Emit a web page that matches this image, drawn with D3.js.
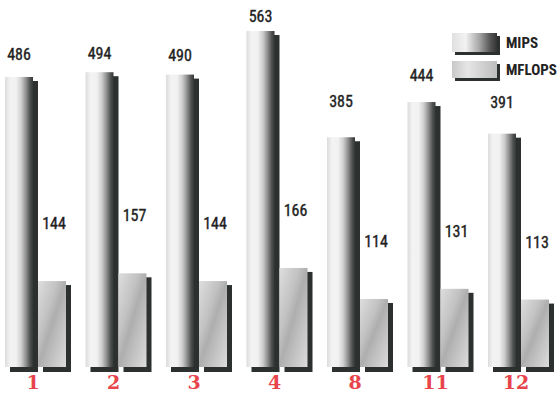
<!DOCTYPE html>
<html>
<head>
<meta charset="utf-8">
<script src="https://cdn.jsdelivr.net/npm/d3@7"></script>
<style>
  body { margin: 0; background: #fff; }
  svg { display: block; }
</style>
</head>
<body>
<div id="chart"></div>
<script>
// data
const groups = ["1", "2", "3", "4", "8", "11", "12"];
const mips = [486, 494, 490, 563, 385, 444, 391];
const mflops = [144, 157, 144, 166, 114, 131, 113];
const seriesNames = ["MIPS", "MFLOPS"];

// label lift above the MIPS bars (hand placed in the original)
const mipsLift = [17, 13, 14, 9, 30, 21, 26];

const width = 558;
const height = 393;
const base = 367;
const barW = 28;
const shadow = { dx: 5, dy: 4 };

const svg = d3.select("#chart").append("svg")
    .attr("width", width)
    .attr("height", height);

const defs = svg.append("defs");

//cylinder look for the MIPS bars
const gMips = defs.append("linearGradient").attr("id", "mipsGrad")
    .attr("x1", 0).attr("x2", 1).attr("y1", 0).attr("y2", 0);
[[0, "#dcdcdc"], [0.18, "#f3f3f3"], [0.4, "#f1f1f1"], [0.58, "#cfcfcf"],
 [0.75, "#8f8f8f"], [0.9, "#4e5050"], [1, "#353838"]].forEach(s => {
    gMips.append("stop").attr("offset", s[0]).attr("stop-color", s[1]);
});

//brushed grey for the MFLOPS bars
const gFlops = defs.append("linearGradient").attr("id", "flopsGrad")
    .attr("x1", 0).attr("x2", 1).attr("y1", 0).attr("y2", 1);
[[0, "#dedede"], [0.35, "#c2c2c2"], [0.5, "#aeaeae"], [0.65, "#bdbdbd"], [1, "#dcdcdc"]].forEach(s => {
    gFlops.append("stop").attr("offset", s[0]).attr("stop-color", s[1]);
});

const gLegM = defs.append("linearGradient").attr("id", "legMips")
    .attr("x1", 0).attr("x2", 1).attr("y1", 0).attr("y2", 0);
[[0, "#e0e0e0"], [0.3, "#f2f2f2"], [0.6, "#a8a8a8"], [0.85, "#555"], [1, "#333"]].forEach(s => {
    gLegM.append("stop").attr("offset", s[0]).attr("stop-color", s[1]);
});

const gLegF = defs.append("linearGradient").attr("id", "legFlops")
    .attr("x1", 0).attr("x2", 1).attr("y1", 0).attr("y2", 0);
[[0, "#c8c8c8"], [0.35, "#e6e6e6"], [0.7, "#cfcfcf"], [1, "#bdbdbd"]].forEach(s => {
    gLegF.append("stop").attr("offset", s[0]).attr("stop-color", s[1]);
});

//scales
const x = d3.scaleBand()
    .domain(groups)
    .range([5, 5 + groups.length * 80.5])
    .padding(0);

const y = d3.scaleLinear()
    .domain([0, 615])
    .range([base, 0]);

const rows = groups.map((g, i) => ({ g: g, mips: mips[i], mflops: mflops[i], lift: mipsLift[i] }));

const bars = svg.selectAll(".grp")
    .data(rows)
    .enter().append("g")
    .attr("class", "grp")
    .attr("transform", d => `translate(${x(d.g)},0)`);

const numFont = "'Liberation Sans Narrow', 'Arial Narrow', 'Roboto Condensed', sans-serif";

//MIPS shadow + bar
bars.append("rect")
    .attr("x", shadow.dx)
    .attr("y", d => y(d.mips) + shadow.dy)
    .attr("width", barW)
    .attr("height", d => base - y(d.mips) + 1)
    .attr("fill", "#2c302f");

bars.append("rect")
    .attr("x", 0)
    .attr("y", d => y(d.mips))
    .attr("width", barW)
    .attr("height", d => base - y(d.mips))
    .attr("fill", "url(#mipsGrad)");

//MFLOPS shadow + bar
bars.append("rect")
    .attr("x", 33 + shadow.dx)
    .attr("y", d => y(d.mflops) + shadow.dy)
    .attr("width", barW)
    .attr("height", d => base - y(d.mflops) + 1)
    .attr("fill", "#2c302f");

bars.append("rect")
    .attr("x", 33)
    .attr("y", d => y(d.mflops))
    .attr("width", barW)
    .attr("height", d => base - y(d.mflops))
    .attr("fill", "url(#flopsGrad)");

//value labels
bars.append("text")
    .attr("x", barW / 2)
    .attr("y", d => y(d.mips) - d.lift)
    .attr("text-anchor", "middle")
    .style("font-family", numFont)
    .style("font-size", "16px")
    .attr("fill", "#222")
    .attr("stroke", "#222")
    .attr("stroke-width", 0.35)
    .text(d => d.mips);

bars.append("text")
    .attr("x", 33 + barW / 2 + 2)
    .attr("y", d => y(d.mflops) - 52)
    .attr("text-anchor", "middle")
    .style("font-family", numFont)
    .style("font-size", "16px")
    .attr("fill", "#222")
    .attr("stroke", "#222")
    .attr("stroke-width", 0.35)
    .text(d => d.mflops);

//category labels
bars.append("text")
    .attr("x", 28)
    .attr("y", 389)
    .attr("text-anchor", "middle")
    .style("font-family", "'DejaVu Serif', serif")
    .style("font-weight", "bold")
    .style("font-size", "19px")
    .attr("fill", "#e8444b")
    .text(d => d.g);

//legend
const legend = svg.selectAll(".legend")
    .data(seriesNames)
    .enter().append("g")
    .attr("class", "legend")
    .attr("transform", (d, i) => `translate(452,${33 + i * 28})`);

legend.append("rect")
    .attr("x", 3).attr("y", 3)
    .attr("width", 45)
    .attr("height", (d, i) => i === 0 ? 19 : 17)
    .attr("fill", "#2c302f");

legend.append("rect")
    .attr("x", 0).attr("y", 0)
    .attr("width", 45)
    .attr("height", (d, i) => i === 0 ? 19 : 17)
    .attr("fill", (d, i) => i === 0 ? "url(#legMips)" : "url(#legFlops)");

legend.append("text")
    .attr("x", 54)
    .attr("y", (d, i) => i === 0 ? 15 : 14)
    .style("font-family", numFont)
    .style("font-weight", "bold")
    .style("font-size", "15px")
    .attr("fill", "#222")
    .text(d => d);
</script>
</body>
</html>
